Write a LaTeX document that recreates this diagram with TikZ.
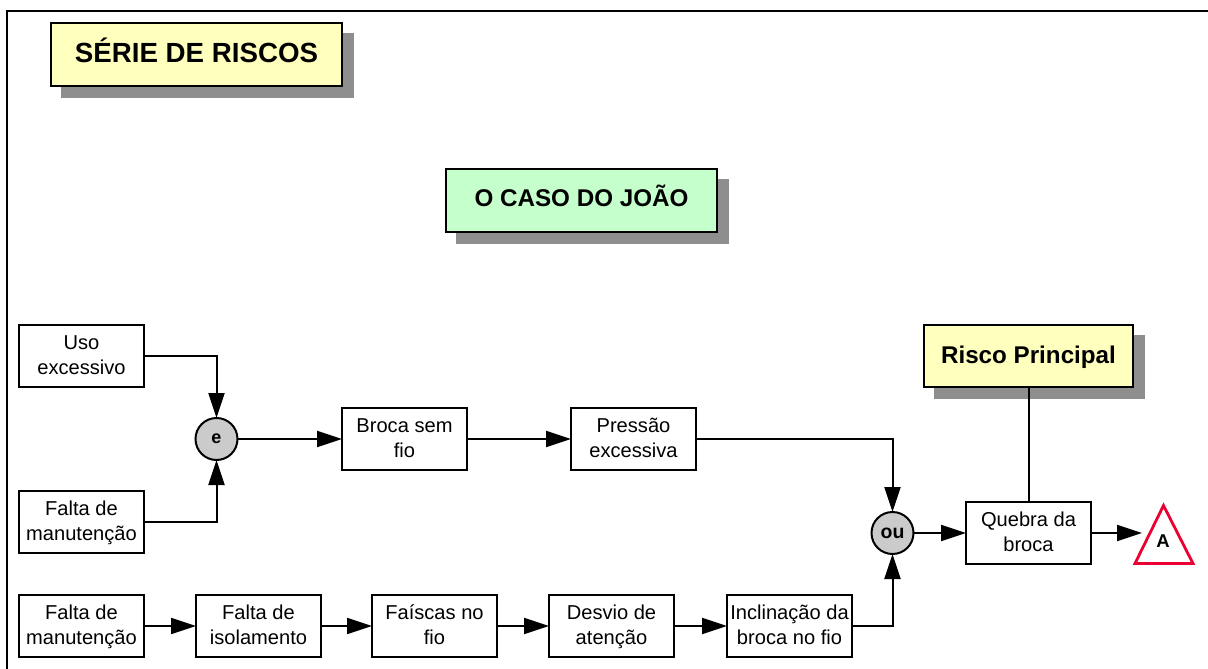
\documentclass[tikz,border=0pt]{standalone}
\usepackage{fontspec}
\setmainfont{Liberation Sans}
\usetikzlibrary{arrows.meta,shadows}
\definecolor{paleyellow}{HTML}{FFFFBE}
\definecolor{palegreen}{HTML}{C4FFCC}
\definecolor{shadowgray}{HTML}{8E8E8E}
\definecolor{gategray}{HTML}{CBCBCB}
\definecolor{alertred}{HTML}{EC0033}
\newcommand{\twolines}[2]{\rule{0pt}{19.9pt}#1\\\strut #2}
\tikzset{
  x=1pt,y=-1pt,
  box/.style={draw=black,line width=2pt,fill=white,minimum width=125pt,minimum height=62pt,inner sep=0pt,outer sep=0pt,align=center,font=\fontsize{20.1}{25.5}\selectfont},
  titlebox/.style={draw=black,line width=2pt,inner sep=0pt,outer sep=0pt,align=center,text depth=0pt,copy shadow={shadow xshift=10.5pt,shadow yshift=-11pt,fill=shadowgray,draw=shadowgray}},
  gate/.style={circle,draw=black,line width=2pt,fill=gategray,minimum size=42pt,inner sep=0pt,outer sep=0pt,font=\fontsize{18}{20}\bfseries\selectfont},
  conn/.style={line width=2pt,draw=black},
  arr/.style={conn,-{Triangle[length=25pt,width=16pt]}}
}
\begin{document}
\begin{tikzpicture}
\useasboundingbox (0,0) rectangle (1208,669);
\fill[white] (0,0) rectangle (1208,669);
\draw[line width=2.2pt,black] (7,669) -- (7,11) -- (1208,11);

\node[titlebox,fill=paleyellow,minimum width=291pt,minimum height=63pt,text height=16.4pt,font=\fontsize{27.7}{32}\bfseries\selectfont] (serie) at (196.5,54.5) {SÉRIE DE RISCOS};
\node[titlebox,fill=palegreen,minimum width=271pt,minimum height=63pt,text height=12.2pt,font=\fontsize{24.2}{28}\bfseries\selectfont] (caso) at (581.5,200.5) {O CASO DO JOÃO};
\node[titlebox,fill=paleyellow,minimum width=209pt,minimum height=62pt,text height=14.4pt,font=\fontsize{24.2}{28}\bfseries\selectfont] (risco) at (1028.5,356) {Risco Principal};

\node[box] (uso) at (81.5,356) {\twolines{Uso}{excessivo}};
\node[box] (falta1) at (81.5,522) {\twolines{Falta de}{manutenção}};
\node[box] (falta2) at (81.5,626) {\twolines{Falta de}{manutenção}};
\node[box] (isol) at (258.5,626) {\twolines{Falta de}{isolamento}};
\node[box] (faisca) at (434.5,626) {\twolines{Faíscas no}{fio}};
\node[box] (desvio) at (611.5,626) {\twolines{Desvio de}{atenção}};
\node[box] (incl) at (789.5,626) {\twolines{Inclinação da}{broca no fio}};
\node[box] (broca) at (404.5,439) {\twolines{Broca sem}{fio}};
\node[box] (pressao) at (633.5,439) {\twolines{Pressão}{excessiva}};
\node[box] (quebra) at (1028.5,533) {\twolines{Quebra da}{broca}};

\node[gate] (e) at (216.5,439) {e};
\node[gate,font=\fontsize{19.5}{20}\bfseries\selectfont] (ou) at (892.5,533) {ou};

\draw[alertred,line width=2.8pt,miter limit=10] (1163.5,505.5) -- (1193,563.5) -- (1135,563.5) -- cycle;
\node[font=\fontsize{18.5}{20}\bfseries\selectfont,inner sep=0pt] (a) at (1163,541.5) {A};
\coordinate (tipA) at (1142,533);

\draw[arr] (uso.east) -| (e.north);
\draw[arr] (falta1.east) -| (e.south);
\draw[arr] (e.east) -- (broca.west);
\draw[arr] (broca.east) -- (pressao.west);
\draw[arr] (pressao.east) -| (ou.north);
\draw[arr] (incl.east) -| (ou.south);
\draw[arr] (ou.east) -- (quebra.west);
\draw[arr] (quebra.east) -- (tipA);
\draw[conn] (risco.south) -- (quebra.north);
\draw[arr] (falta2.east) -- (isol.west);
\draw[arr] (isol.east) -- (faisca.west);
\draw[arr] (faisca.east) -- (desvio.west);
\draw[arr] (desvio.east) -- (incl.west);
\end{tikzpicture}
\end{document}
